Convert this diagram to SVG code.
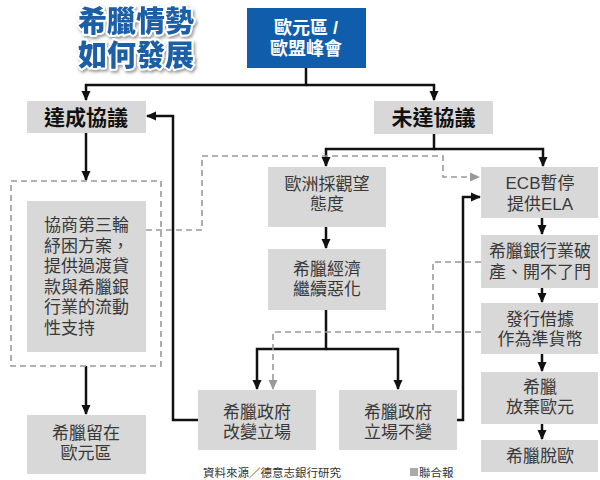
<svg xmlns="http://www.w3.org/2000/svg" width="600" height="480" viewBox="0 0 600 480">
<style>
.box{fill:#d8d8d8}
.t{font-family:"Liberation Sans","Noto Sans CJK TC","Noto Sans CJK SC",sans-serif;font-size:17px;fill:#383838;dominant-baseline:central;text-anchor:middle}
.tl{text-anchor:start}
.b{font-family:"Liberation Sans","Noto Sans CJK TC","Noto Sans CJK SC",sans-serif;font-size:21px;font-weight:bold;fill:#111;dominant-baseline:central;text-anchor:middle}
.w{font-family:"Liberation Sans","Noto Sans CJK TC","Noto Sans CJK SC",sans-serif;font-size:18px;font-weight:bold;fill:#fff;dominant-baseline:central;text-anchor:middle}
.title{font-family:"Liberation Sans","Noto Sans CJK TC","Noto Sans CJK SC",sans-serif;font-size:29px;font-weight:900;fill:#1b5ea6;stroke:#fff;stroke-width:4;paint-order:stroke;stroke-linejoin:round;dominant-baseline:central;text-anchor:middle}
.foot{font-family:"Liberation Sans","Noto Sans CJK TC","Noto Sans CJK SC",sans-serif;font-size:11.5px;fill:#333;dominant-baseline:central}
.c{fill:none;stroke:#111;stroke-width:2.5}
.d{fill:none;stroke:#999;stroke-width:1.6;stroke-dasharray:6,4}
</style>
<defs>
<marker id="ah" viewBox="0 0 10 10" refX="9" refY="5" markerWidth="10" markerHeight="10" markerUnits="userSpaceOnUse" orient="auto">
<path d="M0,0.5 L10,5 L0,9.5 z" fill="#111"/>
</marker>
<marker id="ag" viewBox="0 0 10 10" refX="9" refY="5" markerWidth="10" markerHeight="10" markerUnits="userSpaceOnUse" orient="auto">
<path d="M0,0.5 L10,5 L0,9.5 z" fill="#999"/>
</marker>
<filter id="sh" x="-10%" y="-20%" width="130%" height="150%">
<feDropShadow dx="1.5" dy="2" stdDeviation="1.5" flood-color="#555" flood-opacity="0.6"/>
</filter>
</defs>

<g id="title" filter="url(#sh)">
<text class="title" x="136" y="22">希臘情勢<tspan x="136" dy="34">如何發展</tspan></text>
</g>

<g id="connectors">
<path class="c" d="M306,68 V85 H86 V100" marker-end="url(#ah)"/>
<path class="c" d="M306,85 H434 V100" marker-end="url(#ah)"/>
<path class="c" d="M86,133 V180" marker-end="url(#ah)"/>
<path class="c" d="M86,366 V414" marker-end="url(#ah)"/>
<path class="c" d="M434,134 V149 H326 V166" marker-end="url(#ah)"/>
<path class="c" d="M434,149 H543 V166" marker-end="url(#ah)"/>
<path class="c" d="M326,227 V248" marker-end="url(#ah)"/>
<path class="c" d="M326,310 V349 H257 V389" marker-end="url(#ah)"/>
<path class="c" d="M326,349 H398 V389" marker-end="url(#ah)"/>
<path class="c" d="M198,420 H173 V116 H147" marker-end="url(#ah)"/>
<path class="c" d="M457,420 H463 V197 H480" marker-end="url(#ah)"/>
<path class="c" d="M542,218 V234" marker-end="url(#ah)"/>
<path class="c" d="M542,288 V302" marker-end="url(#ah)"/>
<path class="c" d="M542,354 V371" marker-end="url(#ah)"/>
<path class="c" d="M542,424 V439" marker-end="url(#ah)"/>
<path class="d" d="M146,230 H202 V156 H443 V177 H479" marker-end="url(#ag)"/>
<path class="d" d="M481,262 H433 V332 H273 V389" marker-end="url(#ag)"/>
<path class="d" d="M481,332 H433"/>
</g>

<g id="summit">
<rect x="247" y="8" width="119" height="60" fill="#105eab"/>
<text class="w" x="306" y="28">歐元區 /<tspan x="306" dy="21">歐盟峰會</tspan></text>
</g>

<g id="agree">
<rect class="box" x="27" y="101" width="119" height="32"/>
<text class="b" x="86" y="117">達成協議</text>
</g>

<g id="noagree">
<rect class="box" x="374" y="101" width="119" height="33"/>
<text class="b" x="433.5" y="117.5">未達協議</text>
</g>

<g id="bailout">
<rect x="11" y="181" width="150" height="185" fill="none" stroke="#999" stroke-width="1.6" stroke-dasharray="6,4"/>
<rect class="box" x="27" y="201" width="119" height="151"/>
<text class="t tl" x="44" y="225">協商第三輪<tspan x="44" dy="20.5">紓困方案，</tspan><tspan x="44" dy="20.5">提供過渡貸</tspan><tspan x="44" dy="20.5">款與希臘銀</tspan><tspan x="44" dy="20.5">行業的流動</tspan><tspan x="44" dy="20.5">性支持</tspan></text>
</g>

<g id="stay">
<rect class="box" x="27" y="415" width="119" height="59"/>
<text class="t" x="86" y="433">希臘留在<tspan x="86" dy="20">歐元區</tspan></text>
</g>

<g id="wait">
<rect class="box" x="268" y="167" width="118" height="60"/>
<text class="t" x="327" y="184">歐洲採觀望<tspan x="327" dy="20">態度</tspan></text>
</g>

<g id="worsen">
<rect class="box" x="268" y="249" width="118" height="61"/>
<text class="t" x="327" y="269">希臘經濟<tspan x="327" dy="20">繼續惡化</tspan></text>
</g>

<g id="change">
<rect class="box" x="198" y="390" width="118" height="60"/>
<text class="t" x="257" y="412">希臘政府<tspan x="257" dy="20">改變立場</tspan></text>
</g>

<g id="nochange">
<rect class="box" x="339" y="390" width="118" height="60"/>
<text class="t" x="398" y="412">希臘政府<tspan x="398" dy="20">立場不變</tspan></text>
</g>

<g id="ecb">
<rect class="box" x="481" y="167" width="117" height="51"/>
<text class="t" x="540" y="183">ECB暫停<tspan x="540" dy="21">提供ELA</tspan></text>
</g>

<g id="bankrupt">
<rect class="box" x="481" y="235" width="117" height="53"/>
<text class="t" x="540" y="251">希臘銀行業破<tspan x="540" dy="21">產、開不了門</tspan></text>
</g>

<g id="iou">
<rect class="box" x="481" y="303" width="117" height="51"/>
<text class="t" x="540" y="319">發行借據<tspan x="540" dy="20">作為準貨幣</tspan></text>
</g>

<g id="abandon">
<rect class="box" x="481" y="372" width="117" height="52"/>
<text class="t" x="540" y="387">希臘<tspan x="540" dy="20">放棄歐元</tspan></text>
</g>

<g id="grexit">
<rect class="box" x="481" y="440" width="117" height="32"/>
<text class="t" x="540" y="456">希臘脫歐</text>
</g>

<g id="footer">
<text class="foot" x="203" y="473">資料來源／德意志銀行研究</text>
<rect x="410" y="468" width="8" height="8" fill="#aaa"/>
<text class="foot" x="419" y="473">聯合報</text>
</g>
</svg>
